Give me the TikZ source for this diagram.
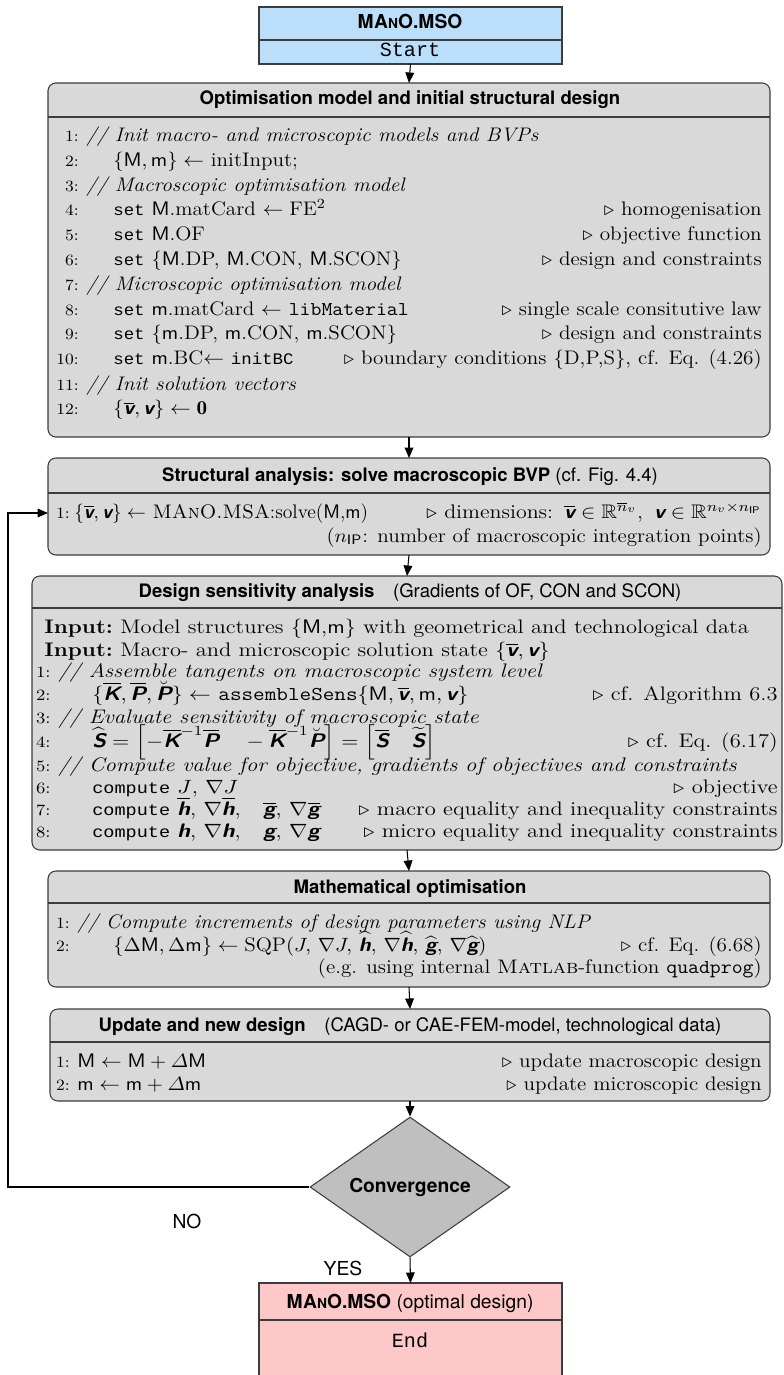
\documentclass[tikz,border=0pt]{standalone}
\usepackage{amsmath,amssymb}
\usepackage{graphicx}
\usepackage{fontspec}
\newfontfamily\hdr{TeX Gyre Heros}
\newfontfamily\cour{Liberation Mono}
\usetikzlibrary{arrows.meta,shapes.geometric,fit}

\definecolor{boxgray}{RGB}{217,217,217}
\definecolor{diagray}{RGB}{191,191,191}
\definecolor{startblue}{RGB}{187,222,251}
\definecolor{endpink}{RGB}{255,200,200}
\definecolor{edge}{RGB}{60,60,60}

% symbols of the algorithm
\newcommand\bsf[1]{\text{\sffamily\bfseries\itshape #1}}
\newcommand\MM{\mathsf{M}}
\newcommand\mmm{\mathsf{m}}
\newcommand\cw[1]{{\cour\fontsize{9.2}{11}\selectfont #1}}
\newcommand\manoh{M\kern0.3pt A{\fontsize{7.9}{9}\selectfont N}O}
\newcommand\vb{\overline{\bsf{v}}}
% algorithm text is set a little wide; \sxfac is changed per box
\newcommand\sxfac{1.08}
\newcommand\sx[1]{\scalebox{\sxfac}[1]{#1}}

% one numbered line: name, baseline, number, text x, text, right-hand comment
\newcommand\codeline[6]{%
  \node[lnum] (#1n) at (\numx,#2) {\sx{#3:}};
  \node[ltxt] (#1t) at (#4,#2) {\sx{#5}};
  \node[rtxt] (#1r) at (\rgtx,#2) {\sx{#6}};}

\begin{document}
\begin{tikzpicture}[x=0.5714pt,y=-0.5714pt,
  box/.style={draw=edge, line width=0.6pt, fill=boxgray, rounded corners=4.5pt, inner sep=0pt, outer sep=0pt},
  term/.style={draw=edge, line width=0.6pt, inner sep=0pt, outer sep=0pt},
  divider/.style={draw=edge, line width=0.6pt},
  head/.style={font=\hdr\fontsize{10.6}{12}\selectfont, inner sep=0pt, anchor=base},
  lnum/.style={font=\fontsize{9}{10}\selectfont, inner sep=0pt, anchor=base east},
  ltxt/.style={font=\fontsize{11.2}{13}\selectfont, inner sep=0pt, anchor=base west},
  rtxt/.style={font=\fontsize{11.2}{13}\selectfont, inner sep=0pt, anchor=base east},
  arr/.style={-{Triangle[length=6pt,width=5pt]}, line width=0.6pt, draw=black},
  lbl/.style={font=\hdr\fontsize{11}{13}\selectfont, inner sep=0pt}]
\useasboundingbox (0,0) rectangle (783,1375);

% ---- start terminal
\node[term, fill=startblue, fit={(259,7)(562,64)}] (b0) {};
\draw[divider] (259,40) -- (562,40);
\node[head, font=\hdr\fontsize{11}{13}\selectfont] (b0h) at (410,29) {\bfseries\manoh.MSO};
\node[head, font=\cour\fontsize{11.5}{13}\selectfont] (b0s) at (410,57) {Start};

% ---- optimisation model
\node[box, fit={(48,83)(770,437)}] (b1) {};
\draw[divider] (48,117) -- (770,117);
\node[head] (b1h) at (410,105) {\bfseries Optimisation model and initial structural design};
\def\numx{79}\def\rgtx{762}
\codeline{a1}{142}{1}{86}{\textit{// Init macro- and microscopic models and BVPs}}{}
\codeline{a2}{167}{2}{113}{$\{\MM,\mmm\}\leftarrow$ initInput;}{}
\codeline{a3}{192}{3}{86}{\textit{// Macroscopic optimisation model}}{}
\codeline{a4}{216}{4}{113}{\cw{set} $\MM$.matCard $\leftarrow\mathrm{FE}^2$}{$\triangleright$ homogenisation}
\codeline{a5}{241}{5}{113}{\cw{set} $\MM$.OF}{$\triangleright$ objective function}
\codeline{a6}{266}{6}{113}{\cw{set} $\{\MM$.DP, $\MM$.CON, $\MM$.SCON$\}$}{$\triangleright$ design and constraints}
\codeline{a7}{291}{7}{86}{\textit{// Microscopic optimisation model}}{}
\codeline{a8}{316}{8}{113}{\cw{set} $\mmm$.matCard $\leftarrow$ \texttt{libMaterial}}{$\triangleright$ single scale consitutive law}
\codeline{a9}{340}{9}{113}{\cw{set} $\{\mmm$.DP, $\mmm$.CON, $\mmm$.SCON$\}$}{$\triangleright$ design and constraints}
\codeline{a10}{365}{10}{113}{\cw{set} $\mmm$.BC$\leftarrow$ \cw{initBC}}{$\triangleright$ boundary conditions $\{$D,P,S$\}$, cf. Eq. (4.26)}
\codeline{a11}{390}{11}{86}{\textit{// Init solution vectors}}{}
\codeline{a12}{415}{12}{113}{$\{\vb,\bsf{v}\}\leftarrow\mathbf{0}$}{}

% ---- structural analysis
\node[box, fit={(48,458)(770,555)}] (b2) {};
\draw[divider] (48,493) -- (770,493);
\node[head] (b2h) at (410,481) {\textbf{Structural analysis: solve macroscopic BVP} (cf. Fig. 4.4)};
\node[lnum] (c1n) at (70,518) {\sx{1:}};
\node[ltxt] (c1t) at (74,518) {$\{\vb,\bsf{v}\}\leftarrow$ \textsc{MAnO.MSA}:solve($\MM$,$\mmm$)};
\node[rtxt] (c1r) at (762,518) {\scalebox{1.12}[1]{$\triangleright$ dimensions:\enspace$\vb\in\mathbb{R}^{\overline{n}_v}$,\enspace$\bsf{v}\in\mathbb{R}^{n_v\times n_{\mathsf{IP}}}$}};
\node[rtxt] (c2r) at (762,542) {\sx{($n_{\mathsf{IP}}$: number of macroscopic integration points)}};

% ---- design sensitivity analysis (set wider)
\renewcommand\sxfac{1.15}
\node[box, fit={(32,576)(782,850)}] (b3) {};
\draw[divider] (32,608) -- (782,608);
\node[head] (b3h) at (410,597) {\textbf{Design sensitivity analysis}\quad(Gradients of OF, CON and SCON)};
\node[ltxt] (in1a) at (44,633) {\sx{\textbf{Input:}}};
\node[ltxt] (in1b) at (120,633) {\sx{Model structures $\{\MM$,$\mmm\}$ with geometrical and technological data}};
\node[ltxt] (in2a) at (44,656) {\sx{\textbf{Input:}}};
\node[ltxt] (in2b) at (120,656) {\sx{Macro- and microscopic solution state $\{\vb,\bsf{v}\}$}};
\def\numx{51}\def\rgtx{778}
\codeline{d1}{677}{1}{58}{\textit{// Assemble tangents on macroscopic system level}}{}
\codeline{d2}{700}{2}{92}{$\{\overline{\bsf{K}},\overline{\bsf{P}},\breve{\bsf{P}}\}\leftarrow$ \texttt{assembleSens}$\{\MM,\vb,\mmm,\bsf{v}\}$}{$\triangleright$ cf. Algorithm 6.3}
\codeline{d3}{723}{3}{58}{\textit{// Evaluate sensitivity of macroscopic state}}{}
\codeline{d4}{747}{4}{92}{$\widehat{\bsf{S}}=\left[-\overline{\bsf{K}}^{-1}\overline{\bsf{P}}\quad-\overline{\bsf{K}}^{-1}\breve{\bsf{P}}\right]=\left[\overline{\bsf{S}}\quad\widetilde{\bsf{S}}\right]$}{$\triangleright$ cf. Eq. (6.17)}
\codeline{d5}{771}{5}{58}{\textit{// Compute value for objective, gradients of objectives and constraints}}{}
\codeline{d6}{793}{6}{92}{\cw{compute} $J$, $\nabla J$}{$\triangleright$ objective}
\codeline{d7}{815}{7}{92}{\cw{compute} $\overline{\bsf{h}}$, $\nabla\overline{\bsf{h}}$,\quad$\overline{\bsf{g}}$, $\nabla\overline{\bsf{g}}$}{$\triangleright$ macro equality and inequality constraints}
\codeline{d8}{837}{8}{92}{\cw{compute} $\bsf{h}$, $\nabla\bsf{h}$,\quad$\bsf{g}$, $\nabla\bsf{g}$}{$\triangleright$ micro equality and inequality constraints}
\renewcommand\sxfac{1.08}

% ---- mathematical optimisation
\node[box, fit={(48,871)(770,987)}] (b4) {};
\draw[divider] (48,903) -- (770,903);
\node[head] (b4h) at (410,893) {\bfseries Mathematical optimisation};
\def\numx{70}\def\rgtx{762}
\codeline{e1}{928}{1}{77}{\textit{// Compute increments of design parameters using NLP}}{}
\codeline{e2}{951}{2}{113}{$\{\Delta\MM,\Delta\mmm\}\leftarrow\mathrm{SQP}(J,\,\nabla J,\,\widehat{\bsf{h}},\,\nabla\widehat{\bsf{h}},\,\widehat{\bsf{g}},\,\nabla\widehat{\bsf{g}})$}{$\triangleright$ cf. Eq. (6.68)}
\node[rtxt] (e3r) at (762,973) {\sx{(e.g. using internal \textsc{Matlab}-function \texttt{quadprog})}};

% ---- update
\node[box, fit={(50,1009)(770,1101)}] (b5) {};
\draw[divider] (50,1042) -- (770,1042);
\node[head] (b5h) at (410,1031) {\textbf{Update and new design}\quad(CAGD- or CAE-FEM-model, technological data)};
\codeline{f1}{1067}{1}{77}{$\MM\leftarrow\MM+\varDelta\MM$}{$\triangleright$ update macroscopic design}
\codeline{f2}{1090}{2}{77}{$\mmm\leftarrow\mmm+\varDelta\mmm$}{$\triangleright$ update microscopic design}

% ---- convergence test
\node[diamond, draw=edge, line width=0.6pt, fill=diagray, minimum width=114.3pt, minimum height=74.3pt, inner sep=0pt, font=\hdr\bfseries\fontsize{11}{13}\selectfont] (dia) at (410,1187) {Convergence};

% ---- end terminal
\node[term, fill=endpink, fit={(259,1283)(562,1385)}] (b6) {};
\draw[divider] (259,1320) -- (562,1320);
\node[head, font=\hdr\fontsize{11}{13}\selectfont] (b6h) at (410,1308) {\textbf{\manoh.MSO} (optimal design)};
\node[head, font=\cour\fontsize{11.5}{13}\selectfont] (b6e) at (410,1347) {End};

% ---- connectors
\draw[arr] (b0.south) -- (b1.north);
\draw[arr] (b1.south) -- (b2.north);
\draw[arr] (b2.south) -- (b3.north);
\draw[arr] (b3.south) -- (b4.north);
\draw[arr] (b4.south) -- (b5.north);
\draw[arr] (b5.south) -- (dia.north);
\draw[arr] (dia.south) -- (b6.north);
\coordinate (fb) at (8,513);
\draw[arr] (dia.west) -| (fb) -- (b2.west |- fb);
\node[lbl] (no) at (187,1221) {NO};
\node[lbl] (yes) at (343,1268) {YES};
\end{tikzpicture}
\end{document}
